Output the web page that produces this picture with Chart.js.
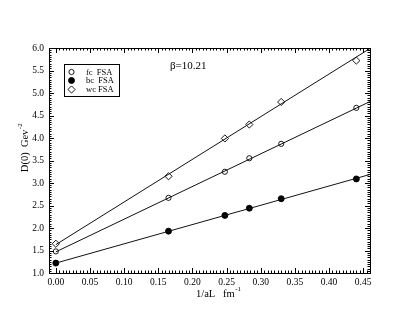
<!DOCTYPE html>
<html>
<head>
<meta charset="utf-8">
<script src="https://cdn.jsdelivr.net/npm/chart.js@4/dist/chart.umd.min.js"></script>
<style>
  html, body { margin: 0; padding: 0; background: #fff; }
  #wrap { width: 416px; height: 322px; }
</style>
</head>
<body>
<div id="wrap"><canvas id="chartCanvas" width="416" height="322"></canvas></div>
<script>
// values
const xVals = [0, 0.165, 0.2475, 0.2833, 0.33, 0.44];
const fcVals = [1.48, 2.67, 3.25, 3.55, 3.87, 4.67];
const bcVals = [1.22, 1.93, 2.28, 2.44, 2.65, 3.09];
const wcVals = [1.65, 3.15, 3.99, 4.30, 4.80, 5.72];

// straight fit lines, start/end
const fitX = [0, 0.46];
const fcFit = [1.47, 4.81];
const bcFit = [1.22, 3.19];
const wcFit = [1.63, 5.99];

const labels = ['fc  FSA', 'bc  FSA', 'wc FSA'];
const xTicks = [0, 0.05, 0.10, 0.15, 0.20, 0.25, 0.30, 0.35, 0.40, 0.45];
const yTicks = [1.0, 1.5, 2.0, 2.5, 3.0, 3.5, 4.0, 4.5, 5.0, 5.5, 6.0];

const serif = '"Liberation Serif", "DejaVu Serif", serif';

function pts(ys) {
    return xVals.map((x, i) => ({ x: x, y: ys[i] }));
}
function fit(ends) {
    return fitX.map((x, i) => ({ x: x, y: ends[i] }));
}

const markers = [
    { style: 'circle', r: 2.6, fill: 'rgba(0,0,0,0)' },
    { style: 'circle', r: 3, fill: '#000' },
    { style: 'rectRot', r: 3.6, fill: 'rgba(0,0,0,0)' }
];

function drawMark(ctx, m, x, y) {
    ctx.save();
    ctx.lineWidth = 0.9;
    ctx.strokeStyle = '#000';
    ctx.fillStyle = m.fill;
    ctx.beginPath();
    if (m.style === 'circle') {
        ctx.arc(x, y, m.r, 0, Math.PI * 2);
    } else {
        ctx.moveTo(x, y - m.r);
        ctx.lineTo(x + m.r, y);
        ctx.lineTo(x, y + m.r);
        ctx.lineTo(x - m.r, y);
        ctx.closePath();
    }
    ctx.fill();
    ctx.stroke();
    ctx.restore();
}

const framePlugin = {
    id: 'frame',
    afterDraw(chart) {
        const ctx = chart.ctx;
        const a = chart.chartArea;
        const xs = chart.scales.x;
        const ys = chart.scales.y;
        ctx.save();
        ctx.strokeStyle = '#000';
        ctx.lineWidth = 1;
        ctx.strokeRect(Math.round(a.left) + 0.5, Math.round(a.top) + 0.5,
            Math.round(a.right - a.left), Math.round(a.bottom - a.top));

        // inward ticks on all four sides
        ctx.beginPath();
        for (let i = 0; i <= 92; i++) {
            const v = i * 0.005;
            if (v > xs.max) break;
            const px = Math.round(xs.getPixelForValue(v)) + 0.5;
            const len = (i % 10 === 0) ? 5 : 2.5;
            ctx.moveTo(px, a.bottom); ctx.lineTo(px, a.bottom - len);
            ctx.moveTo(px, a.top); ctx.lineTo(px, a.top + len);
        }
        for (let i = 0; i <= 100; i++) {
            const v = 1 + i * 0.05;
            const py = Math.round(ys.getPixelForValue(v)) + 0.5;
            const len = (i % 10 === 0) ? 5 : 2.5;
            ctx.moveTo(a.left, py); ctx.lineTo(a.left + len, py);
            ctx.moveTo(a.right, py); ctx.lineTo(a.right - len, py);
        }
        ctx.stroke();

        // legend
        ctx.strokeRect(64.5, 64.5, 55, 32);
        const rowY = [72, 80.5, 89.5];
        ctx.fillStyle = '#000';
        ctx.font = '8.5px ' + serif;
        ctx.textBaseline = 'middle';
        ctx.textAlign = 'left';
        for (let i = 0; i < labels.length; i++) {
            drawMark(ctx, markers[i], 71.5, rowY[i]);
            ctx.fillStyle = '#000';
            ctx.fillText(labels[i], 86, rowY[i] + 0.5);
        }

        // beta label
        ctx.font = '11px ' + serif;
        ctx.textBaseline = 'alphabetic';
        ctx.fillText('\u03b2=10.21', 170, 69);

        // x title with superscript
        ctx.font = '10.5px ' + serif;
        const t1 = '1/aL   fm';
        ctx.fillText(t1, 196, 297);
        const w1 = ctx.measureText(t1).width;
        ctx.font = '7px ' + serif;
        ctx.fillText('-1', 196 + w1 + 0.5, 291);

        // y title, rotated
        ctx.translate(28, 148);
        ctx.rotate(-Math.PI / 2);
        ctx.font = '10.5px ' + serif;
        const t2 = 'D(0)  Gev';
        const w2 = ctx.measureText(t2).width;
        ctx.font = '7px ' + serif;
        const w3 = ctx.measureText('-2').width;
        const start = -(w2 + w3) / 2;
        ctx.font = '10.5px ' + serif;
        ctx.fillText(t2, start, 0);
        ctx.font = '7px ' + serif;
        ctx.fillText('-2', start + w2 + 0.5, -6);
        ctx.restore();
    }
};

const lineStyle = { showLine: true, borderColor: '#111', borderWidth: 1, pointRadius: 0, pointHoverRadius: 0, fill: false };
const pointStyle = (i) => ({
    showLine: false,
    pointStyle: markers[i].style,
    pointRadius: markers[i].r,
    pointBorderWidth: 0.9,
    borderColor: '#000',
    backgroundColor: markers[i].fill,
    pointBackgroundColor: markers[i].fill,
    pointBorderColor: '#000'
});

const chartData = {
    datasets: [
        Object.assign({ label: 'fc fit', data: fit(fcFit) }, lineStyle),
        Object.assign({ label: 'bc fit', data: fit(bcFit) }, lineStyle),
        Object.assign({ label: 'wc fit', data: fit(wcFit) }, lineStyle),
        Object.assign({ label: labels[0], data: pts(fcVals) }, pointStyle(0)),
        Object.assign({ label: labels[1], data: pts(bcVals) }, pointStyle(1)),
        Object.assign({ label: labels[2], data: pts(wcVals) }, pointStyle(2))
    ]
};

const chartOptions = {
    responsive: false,
    animation: false,
    events: [],
    layout: { padding: { left: 0, top: 48, right: 46, bottom: 0 } },
    plugins: { legend: { display: false }, tooltip: { enabled: false } },
    scales: {
        x: {
            type: 'linear',
            min: -0.01,
            max: 0.46,
            border: { display: false },
            grid: { display: false, drawTicks: false },
            afterBuildTicks: (s) => { s.ticks = xTicks.map(v => ({ value: v })); },
            afterFit: (s) => { s.height = 49; },
            ticks: {
                padding: 4,
                color: '#000',
                font: { family: serif, size: 9.5 },
                maxRotation: 0,
                autoSkip: false,
                callback: (v) => Number(v).toFixed(2)
            }
        },
        y: {
            type: 'linear',
            min: 1,
            max: 6,
            border: { display: false },
            grid: { display: false, drawTicks: false },
            afterBuildTicks: (s) => { s.ticks = yTicks.map(v => ({ value: v })); },
            afterFit: (s) => { s.width = 49; },
            ticks: {
                padding: 5,
                color: '#000',
                font: { family: serif, size: 9.5 },
                autoSkip: false,
                callback: (v) => Number(v).toFixed(1)
            }
        }
    }
};

const canvas = document.getElementById('chartCanvas');
new Chart(canvas, {
    type: 'scatter',
    data: chartData,
    options: chartOptions,
    plugins: [framePlugin]
});
</script>
</body>
</html>
